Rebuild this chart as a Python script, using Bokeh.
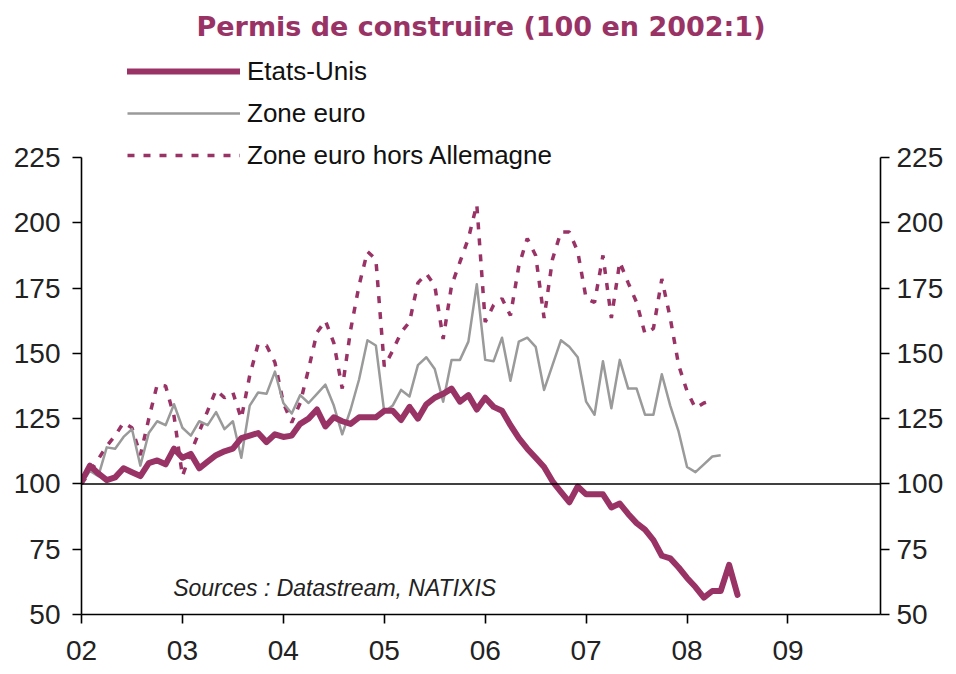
import numpy as np
from bokeh.plotting import figure
from bokeh.models import (Range1d, LinearAxis, FixedTicker, Span, Label,
                          Legend, LegendItem)
from bokeh.embed import file_html
from bokeh.resources import INLINE

# ---------------- data ----------------
title_text = "Permis de construire (100 en 2002:1)"
source_text = "Sources : Datastream, NATIXIS"
start_year = 2002  # monthly series starting 2002:01
year_ticks = [2002, 2003, 2004, 2005, 2006, 2007, 2008, 2009]
year_labels = ["02", "03", "04", "05", "06", "07", "08", "09"]
y_ticks = [50, 75, 100, 125, 150, 175, 200, 225]

etats_unis = [
    101, 107, 104, 101.5, 102.5, 106, 104.5, 103, 108, 109, 107.5, 113.5,
    110, 111.5, 106, 108.5, 111, 112.5, 113.5, 117.5, 118.5, 119.5, 116, 119,
    118, 118.5, 123, 125, 128.5, 122, 125.5, 124, 123, 125.5, 125.5, 125.5,
    128, 128, 124.5, 129.5, 125, 130.5, 133, 134.5, 136.5, 131.5, 134, 128.5,
    133, 129.5, 128, 122.5, 117.5, 113.5, 110, 106.5, 101, 97, 93, 99,
    96, 96, 96, 91, 92.5, 88.5, 85, 82.5, 78.5, 72.5, 71.5, 68,
    64, 60.5, 56.5, 59, 59, 69, 57.5,
]

zone_euro = [
    100, 105, 103, 114, 113.5, 118, 121, 107, 119.5, 124, 122.5, 130.5,
    121.5, 118.5, 124, 122.5, 127.5, 121, 124, 110, 130, 135, 134.5, 143,
    131, 127, 134, 131, 134.5, 138, 130, 119, 128.5, 140, 155, 153,
    127.5, 130, 136, 133.5, 145.5, 148.5, 144, 131.5, 147.5, 147.5, 154.5, 176.5,
    147.5, 147, 156, 139.5, 154.5, 156, 152.5, 136, 145.5, 155, 152.5, 148.5,
    131.5, 126.5, 147, 129, 147.5, 136.5, 136.5, 126.5, 126.5, 142, 130, 120,
    106.5, 104.5, 107.5, 110.5, 111,
]

zone_euro_hors_allemagne = [
    100, 104.5, 109.5, 114.5, 118.5, 123.5, 121.5, 111, 125, 138, 137.5, 126,
    103, 112, 120, 128, 136, 133, 135, 125, 141.5, 153.5, 153, 146.5,
    131, 123.5, 131, 144, 158, 162.5, 154, 136.5, 159, 176, 189, 186,
    145, 151, 158, 162, 177, 180.5, 176, 155.5, 176, 185, 194, 207,
    162, 168.5, 171, 164.5, 183.5, 194, 187.5, 163.5, 186, 196.5, 196.5, 189,
    171, 169.5, 187.5, 163.5, 185, 177, 169.5, 157.5, 159.5, 178.5, 163.5, 145.5,
    135.5, 129, 131, 132,
]


def month_axis(series):
    return [start_year + i / 12 for i in range(len(series))]


PLUM = "#993366"
GREY = "#9a9a9a"
FONT = "Liberation Sans"

# frame: 225 at y=157, 50 at y=614 -> extend the range upward so the legend fits
px_per_unit = (614 - 157) / 175
frame_top = 45
y_top = 50 + (614 - frame_top) / px_per_unit

p = figure(width=950, height=672, output_backend="svg", toolbar_location=None,
           x_range=Range1d(2002, 2009 + 11 / 12), y_range=Range1d(50, y_top),
           min_border_left=81, min_border_right=70, min_border_top=frame_top,
           min_border_bottom=672 - 614)
p.outline_line_color = None
p.grid.visible = False
p.background_fill_color = "white"
p.border_fill_color = "white"

# title
p.title.text = title_text
p.title.align = "center"
p.title.text_font = "DejaVu Sans"
p.title.text_font_style = "bold"
p.title.text_font_size = "27px"
p.title.text_color = PLUM
p.title.standoff = 8

# axes
def style_axis(ax, ticks, standoff):
    ax.ticker = FixedTicker(ticks=ticks)
    ax.major_tick_in = 0
    ax.major_tick_out = 9
    ax.minor_tick_line_color = None
    ax.axis_line_color = "black"
    ax.axis_line_width = 1.6
    ax.major_tick_line_color = "black"
    ax.major_tick_line_width = 1.6
    ax.major_label_text_font = FONT
    ax.major_label_text_font_size = "28px"
    ax.major_label_text_color = "#222222"
    ax.major_label_standoff = standoff

style_axis(p.xaxis[0], year_ticks, 17)
p.xaxis[0].major_label_overrides = {t: l for t, l in zip(year_ticks, year_labels)}
style_axis(p.yaxis[0], y_ticks, 12)
p.yaxis[0].bounds = (50, 225)
right_axis = LinearAxis(bounds=(50, 225))
style_axis(right_axis, y_ticks, 7)
p.add_layout(right_axis, "right")

# reference line at 100
p.add_layout(Span(location=100, dimension="width", line_color="black", line_width=1.6))

# series
r_hors = p.line(month_axis(zone_euro_hors_allemagne), zone_euro_hors_allemagne,
                line_color=PLUM, line_width=3.5, line_dash="7 9")
r_ze = p.line(month_axis(zone_euro), zone_euro, line_color=GREY, line_width=2.5,
              line_join="round")
r_us = p.line(month_axis(etats_unis), etats_unis, line_color=PLUM, line_width=6,
              line_join="round", line_cap="round")

legend = Legend(items=[LegendItem(label="Etats-Unis", renderers=[r_us]),
                       LegendItem(label="Zone euro", renderers=[r_ze]),
                       LegendItem(label="Zone euro hors Allemagne", renderers=[r_hors])],
                location=(46, 438), orientation="vertical", padding=0, margin=0,
                spacing=0, glyph_width=113, glyph_height=42, label_height=42,
                label_standoff=7, label_text_font=FONT, label_text_font_size="26px",
                label_text_color="#111111", background_fill_alpha=0,
                border_line_alpha=0)
p.add_layout(legend, "center")

p.add_layout(Label(x=2002 + 10.9 / 12, y=60, text=source_text, text_font=FONT,
                   text_font_style="italic", text_font_size="23px",
                   text_baseline="middle", text_color="#222222"))

open("out.html", "w").write(file_html(p, INLINE))
